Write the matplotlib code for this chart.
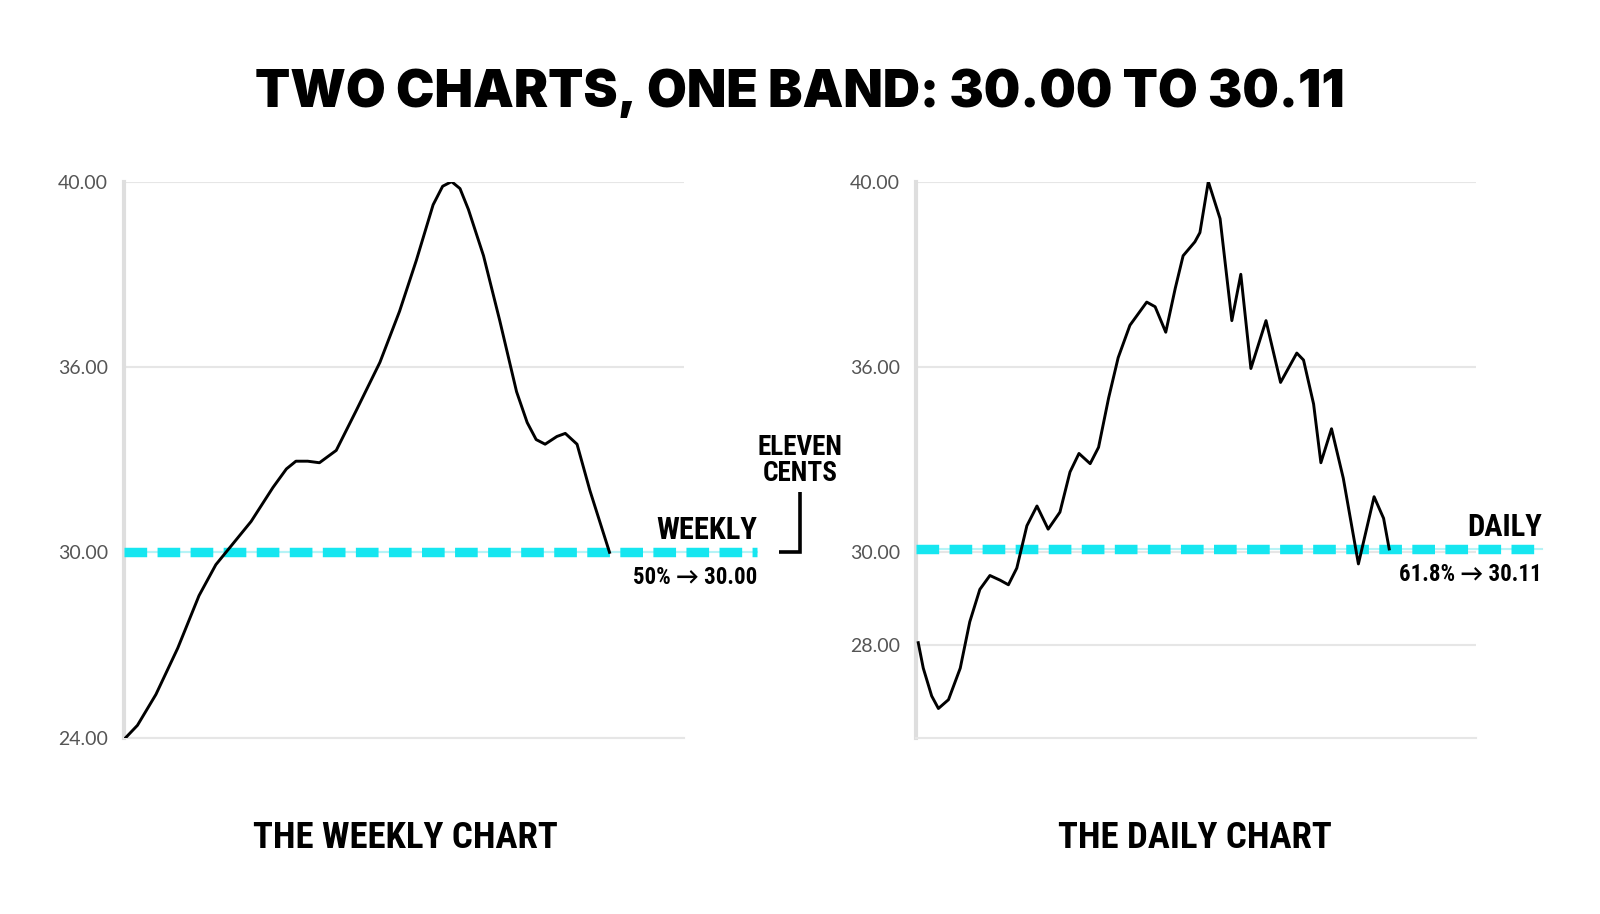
import numpy as np
import matplotlib
matplotlib.use('Agg')
import matplotlib.pyplot as plt

# ---- data ----
weekly_x = [0.3, 2.4, 5.7, 9.6, 13.4, 16.4, 19.1, 22.7, 26.6, 29.0, 30.7, 32.8, 34.9,
            37.9, 41.5, 45.7, 49.2, 52.2, 55.2, 56.9, 58.5, 60.0, 61.5, 64.2, 67.1,
            70.1, 72.0, 73.6, 75.2, 77.3, 78.8, 80.9, 83.2, 86.7]
weekly_y = [24.0, 24.4, 25.4, 26.9, 28.6, 29.6, 30.2, 31.0, 32.1, 32.7, 32.95, 32.95,
            32.9, 33.3, 34.6, 36.1, 37.2, 38.3, 39.5, 39.9, 40.0, 39.85, 39.4, 38.4,
            37.0, 35.2, 34.2, 33.65, 33.5, 33.75, 33.85, 33.5, 32.0, 30.0]

daily_x = [0.4, 1.3, 2.8, 4.0, 5.8, 7.9, 9.6, 11.4, 13.2, 15.0, 16.5, 18.0, 19.8,
           21.6, 23.6, 25.7, 27.5, 29.1, 31.1, 32.6, 34.4, 36.1, 38.2, 41.2, 42.7,
           44.6, 46.3, 47.7, 49.8, 50.7, 52.2, 54.3, 56.4, 58.0, 59.8, 62.5, 65.1,
           68.0, 69.2, 71.0, 72.3, 74.2, 76.3, 79.0, 81.8, 83.5, 84.5]
daily_y = [28.05, 27.5, 26.9, 26.63, 26.82, 27.5, 28.5, 29.2, 29.5, 29.4, 29.3, 29.66,
           30.86, 31.5, 30.75, 31.3, 32.6, 33.2, 32.87, 33.4, 35.0, 36.2, 36.9, 37.4,
           37.3, 36.75, 37.7, 38.4, 38.7, 38.9, 40.0, 39.2, 37.0, 38.0, 35.95, 37.0,
           35.5, 36.3, 36.15, 34.8, 32.9, 34.0, 32.4, 29.75, 31.8, 31.1, 30.11]

weekly_ticks = [24, 30, 36, 40]
daily_ticks = [28, 30, 36, 40]
weekly_band = 30.00
daily_band = 30.11

title = "TWO CHARTS, ONE BAND: 30.00 TO 30.11"

CYAN = '#16e6f0'
CYAN_LIGHT = '#b5f3f6'
GRID = '#e6e6e6'
SPINE = '#dedede'
TICK_C = '#555555'
BOLD_FONT = ['Roboto Condensed', 'Lato', 'DejaVu Sans']

fig = plt.figure(figsize=(16, 9.14), dpi=100)
fig.patch.set_facecolor('white')


def setup(ax, ticks, lo, scale_vals, scale_pos):
    fwd = lambda y: np.interp(y, scale_vals, scale_pos)
    inv = lambda p: np.interp(p, scale_pos, scale_vals)
    ax.set_yscale('function', functions=(fwd, inv))
    ax.set_ylim(lo, 40)
    ax.set_xlim(0, 100)
    ax.set_yticks(ticks)
    ax.set_yticklabels([f"{t:.2f}" for t in ticks], fontsize=14, color=TICK_C,
                       family=['Lato', 'DejaVu Sans'])
    ax.set_xticks([])
    ax.tick_params(axis='y', length=0, pad=11.5)
    ax.grid(axis='y', color=GRID, lw=1.5, zorder=0)
    for s in ['top', 'right']:
        ax.spines[s].set_visible(False)
    ax.spines['bottom'].set_color(GRID)
    ax.spines['bottom'].set_linewidth(1.5)
    ax.spines['left'].set_color(SPINE)
    ax.spines['left'].set_linewidth(3)


def band(ax, y, x_end):
    ax.plot([0, x_end], [y, y], color=CYAN_LIGHT, lw=1.5, zorder=2, clip_on=False)
    ax.plot([0, x_end], [y, y], color=CYAN, lw=6.8, ls=(0, (2.4, 1.1)),
            zorder=3, clip_on=False, solid_capstyle='butt')


ax1 = fig.add_axes([0.0775, 0.1929, 0.35, 0.6084])
ax2 = fig.add_axes([0.5725, 0.1929, 0.35, 0.6084])

setup(ax1, weekly_ticks, 24, [24, 30, 36, 40], [0, 1, 2, 3])
setup(ax2, daily_ticks, 26, [26, 30, 36, 40], [0, 1, 2, 3])

band(ax1, weekly_band, 113)
band(ax2, daily_band, 111.8)

ax1.plot(weekly_x, weekly_y, color='black', lw=2.1, zorder=4,
         solid_joinstyle='round')
ax2.plot(daily_x, daily_y, color='black', lw=2.1, zorder=4,
         solid_joinstyle='round')

# band labels
for ax, name, note, xe, yb in [(ax1, "WEEKLY", "50% \u2192 30.00", 113, weekly_band),
                               (ax2, "DAILY", "61.8% \u2192 30.11", 111.8, daily_band)]:
    ax.annotate(name, xy=(xe, yb), xytext=(0, 9.5),
                textcoords='offset points', ha='right', va='baseline',
                fontsize=22, fontweight='bold', family=BOLD_FONT, annotation_clip=False)
    ax.annotate(note, xy=(xe, yb), xytext=(0, -23),
                textcoords='offset points', ha='right', va='baseline',
                fontsize=16.5, fontweight='bold', family=BOLD_FONT, annotation_clip=False)

# eleven cents bracket
ax1.plot([117.0, 120.7, 120.7], [weekly_band, weekly_band, 31.95], color='black',
         lw=2.6, clip_on=False, solid_joinstyle='miter', solid_capstyle='butt')
fig.text(0.5, 1 - 455 / 914, "ELEVEN", ha='center', va='baseline', fontsize=19.5,
         fontweight='bold', family=BOLD_FONT)
fig.text(0.5, 1 - 481 / 914, "CENTS", ha='center', va='baseline', fontsize=19.5,
         fontweight='bold', family=BOLD_FONT)

# chart titles
fig.text(0.2534, 1 - 848 / 914, "THE WEEKLY CHART", ha='center', va='baseline',
         fontsize=26.5, fontweight='bold', family=BOLD_FONT)
fig.text(0.7466, 1 - 848 / 914, "THE DAILY CHART", ha='center', va='baseline',
         fontsize=26.5, fontweight='bold', family=BOLD_FONT)

fig.text(0.5, 1 - 107 / 914, title, ha='center', va='baseline', fontsize=37,
         fontweight='black', family=['Inter', 'DejaVu Sans'])

fig.savefig('out.png', dpi=100, facecolor='white')
